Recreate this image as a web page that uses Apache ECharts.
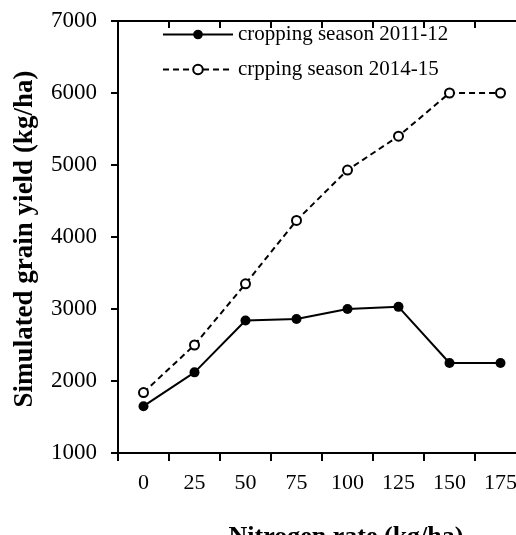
<!DOCTYPE html>
<html>
<head>
<meta charset="utf-8">
<script src="https://cdn.jsdelivr.net/npm/echarts@6/dist/echarts.min.js"></script>
<style>html,body{margin:0;padding:0;background:#fff;overflow:hidden;width:516px;height:535px;}#c{width:526px;height:535px;}</style>
</head>
<body>
<div id="c"></div>
<script>
const categories = ['0', '25', '50', '75', '100', '125', '150', '175'];
const season2011 = [1650, 2120, 2840, 2860, 3000, 3030, 2250, 2250];
const season2014 = [1840, 2500, 3350, 4230, 4930, 5400, 6000, 6000];
const seriesNames = ['cropping season 2011-12', 'crpping season 2014-15'];
const yTicks = { min: 1000, max: 7000, interval: 1000 };

const FONT = 'Liberation Serif';
const chart = echarts.init(document.getElementById('c'), null, { renderer: 'canvas' });

const xBase = {
  type: 'category', data: categories, boundaryGap: true,
  axisLine: { show: true, lineStyle: { color: '#000', width: 2 } },
  axisTick: { show: true, inside: false, length: 8, lineStyle: { color: '#000', width: 2 } },
  axisLabel: { color: '#000', fontFamily: FONT, fontSize: 22, margin: 19 },
  splitLine: { show: false }
};
const yBase = {
  type: 'value', min: yTicks.min, max: yTicks.max, interval: yTicks.interval,
  axisLine: { show: true, lineStyle: { color: '#000', width: 2 } },
  axisTick: { show: true, inside: false, length: 7, lineStyle: { color: '#000', width: 2 } },
  axisLabel: { color: '#000', fontFamily: FONT, fontSize: 23, margin: 21, formatter: v => String(v) },
  splitLine: { show: false }
};

chart.setOption({
  animation: false,
  backgroundColor: '#fff',
  grid: { left: 118, right: 0, top: 21, bottom: 82, show: true, borderColor: '#000', borderWidth: 2, backgroundColor: 'transparent' },
  xAxis: [
    xBase,
    Object.assign({}, xBase, { axisLabel: { show: false }, axisLine: { show: false }, axisTick: { show: true, inside: true, length: 7, lineStyle: { color: '#000', width: 2 } } })
  ],
  yAxis: [
    yBase,
    Object.assign({}, yBase, { axisLabel: { show: false }, axisLine: { show: false }, axisTick: { show: true, inside: true, length: 7, lineStyle: { color: '#000', width: 2 } } })
  ],
  legend: {
    orient: 'vertical', left: 157, top: 19, itemWidth: 70, itemHeight: 12, itemGap: 14,
    textStyle: { color: '#000', fontFamily: FONT, fontSize: 21 },
    data: seriesNames
  },
  graphic: [
    { type: 'text', x: 346, y: 537, style: { text: 'Nitrogen rate (kg/ha)', fill: '#000', font: 'bold 26px "Liberation Serif"', textAlign: 'center', textVerticalAlign: 'middle' } },
    { type: 'text', x: 25, y: 239, rotation: Math.PI / 2, style: { text: 'Simulated grain yield (kg/ha)', fill: '#000', font: 'bold 27px "Liberation Serif"', textAlign: 'center', textVerticalAlign: 'middle' } }
  ],
  series: [
    {
      name: seriesNames[0], type: 'line', data: season2011,
      symbol: 'circle', symbolSize: 10,
      itemStyle: { color: '#000' },
      lineStyle: { color: '#000', width: 2, type: 'solid' }
    },
    {
      name: seriesNames[1], type: 'line', data: season2014,
      symbol: 'emptyCircle', symbolSize: 9,
      itemStyle: { color: '#000', borderColor: '#000', borderWidth: 2 },
      lineStyle: { color: '#000', width: 2, type: [6, 4] }
    }
  ]
});
</script>
</body>
</html>
